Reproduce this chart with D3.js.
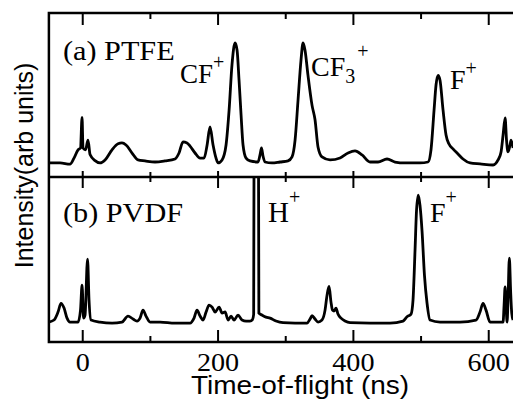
<!DOCTYPE html>
<html>
<head>
<meta charset="utf-8">
<script src="https://cdn.jsdelivr.net/npm/d3@7"></script>
<style>
  body { margin: 0; background: #fff; }
  svg { display: block; }
</style>
</head>
<body>
<div id="chart"></div>
<script>
// time-of-flight (ns) and intensity (arb units)
var ptfeTime = [-50, -33.5, -18.8, -12.9, -6.9, -3.3, -1.0, 0.4, 4.1, 7.8, 10.8, 18.2, 25.6, 33, 43.3, 52.2, 58, 64, 72.9, 81.7,
  92, 106.8, 121.6, 136.4, 142.3, 148.2, 154.1, 158.6, 166, 173.4, 179.3, 183.8, 188.1, 192.6, 197, 200, 205.9, 211.8, 216.3, 220.6,
  225.1, 228.1, 231, 234, 236.9, 241.4, 247.2, 259, 262, 264.2, 266.4, 269.4, 279.7, 291.6, 303.4, 309.3, 313.8, 318.2, 322.6, 325.6,
  328.5, 332.9, 338.9, 343.3, 347.7, 353.6, 365.5, 380.3, 392.1, 402.4, 412.8, 424.6, 436.4, 449.7, 461.5, 476.3, 498.5, 510.3, 514.7, 519.2,
  522.1, 525.1, 528, 532.5, 536.9, 541.3, 547.2, 554.6, 562, 572.4, 587.2, 606.4, 613.8, 618.2, 621.2, 624.2, 626.3, 628.5, 631.5, 633, 636]
var ptfeValue = [0, 0, -0.01, 0.04, 0.11, 0.125, 0.38, 0.125, 0.11, 0.19, 0.07, 0.02, 0, 0.025, 0.11, 0.16, 0.167, 0.15, 0.083, 0.025,
  0.017, 0.008, 0.017, 0.033, 0.083, 0.175, 0.167, 0.14, 0.083, 0.04, 0.04, 0.15, 0.30, 0.15, 0.04, 0, 0.025, 0.15, 0.44, 0.82,
  1.0, 0.94, 0.69, 0.40, 0.15, 0.04, 0.017, 0.008, 0.067, 0.125, 0.058, 0.008, 0, 0.008, 0.017, 0.05, 0.19, 0.525, 0.86, 1.0,
  0.94, 0.73, 0.48, 0.36, 0.133, 0.05, 0.025, 0.042, 0.083, 0.1, 0.067, 0.008, 0.008, 0.033, 0.008, 0, 0, 0.008, 0.11, 0.44,
  0.65, 0.73, 0.69, 0.44, 0.233, 0.158, 0.117, 0.075, 0.033, 0, -0.008, -0.017, 0.025, 0.092, 0.233, 0.375, 0.19, 0.092, 0.15, 0.19, 0.125]

var pvdfTime = [-50, -42.4, -36.5, -32.1, -27.6, -23.2, -18.8, -6.9, -3.3, -1.0, 1.2, 3.4, 7.1, 9.3, 12.3, 25.6, 43.3, 58, 66.9, 74.3,
  80.2, 84.7, 89.1, 93.5, 99.5, 114.3, 136.4, 158.6, 164.5, 168.9, 173.4, 177.8, 182.3, 186.7, 191.2, 195.6, 201.5, 205.9, 210.4, 214.8,
  219.2, 223.6, 229.5, 235.4, 241.4, 247.2, 250.9, 252.6, 253.4, 256.5, 259.5, 260.3, 264.9, 270.8, 276.8, 285.6, 296, 313.8, 331.5, 336,
  338.9, 343.3, 347.7, 353.6, 358.1, 361, 364, 366.9, 369.1, 371.4, 374.3, 377.2, 381.7, 387.6, 395, 424.6, 454.1, 473.4, 479.3, 485.2,
  488.1, 491.1, 493.3, 495.9, 498.4, 501.4, 505, 508.8, 513.2, 528, 557.6, 581.2, 587.1, 591.6, 596, 601.9, 621.2, 622.7, 624.2, 625.6,
  627.1, 628.5, 630.5, 632.3, 634, 636]
var pvdfValue = [0, 0.016, 0.079, 0.147, 0.11, 0.031, 0, 0, 0.094, 0.29, 0.031, 0.055, 0.496, 0.173, 0.016, 0, -0.008, 0, 0.047, 0.024,
  0.008, 0.031, 0.094, 0.047, 0, 0, -0.008, -0.008, 0.031, 0.094, 0.047, 0.016, 0.079, 0.134, 0.118, 0.079, 0.118, 0.071, 0.079, 0.016,
  0.047, 0.016, 0.055, 0.016, 0.008, 0.008, 0.02, 0.06, 1.9, 2.2, 1.9, 0.07, 0.055, 0.039, 0.031, 0.008, -0.005, -0.008, -0.008, 0.024,
  0.05, 0.024, 0, 0.016, 0.094, 0.21, 0.28, 0.157, 0.094, 0.087, 0.11, 0.063, 0.031, 0.008, -0.005, -0.008, -0.008, 0.008, 0.042, 0.063,
  0.173, 0.567, 0.88, 1.0, 0.92, 0.72, 0.37, 0.15, 0.016, 0, 0, 0.016, 0.079, 0.147, 0.094, 0, 0, 0.134, 0.276, 0.134,
  0, 0.173, 0.504, 0.25, 0.071, 0.016]

var majorTicks = [0, 200, 400, 600]
var minorTicks = [100, 300, 500]
var tickLabels = ["0", "200", "400", "600"]

var width = 513, height = 400
var left = 48.9, right = 515.8
var top1 = 13, mid = 177, bottom2 = 342

var svg = d3.select("#chart").append("svg")
            .attr("width", width)
            .attr("height", height)

svg.append("rect").attr("width", width).attr("height", height).attr("fill", "#fff")

var x = d3.scaleLinear().domain([-50, 640]).range([left, right])
var yTop = d3.scaleLinear().domain([-0.117, 1.25]).range([mid, top1])
var yBot = d3.scaleLinear().domain([-0.157, 1.142]).range([bottom2, mid])

var defs = svg.append("defs")
defs.append("clipPath").attr("id", "clipTop")
    .append("rect").attr("x", left).attr("y", top1).attr("width", right - left).attr("height", mid - top1)
defs.append("clipPath").attr("id", "clipBot")
    .append("rect").attr("x", left).attr("y", mid).attr("width", right - left).attr("height", bottom2 - mid)

function drawTrace(times, values, yScale, clip) {
    var pts = times.map(function (t, i) { return [t, values[i]] })
    var line = d3.line()
                 .x(function (d) { return x(d[0]) })
                 .y(function (d) { return yScale(d[1]) })
                 .curve(d3.curveMonotoneX)
    svg.append("path")
       .datum(pts)
       .attr("clip-path", "url(#" + clip + ")")
       .attr("fill", "none")
       .attr("stroke", "#000")
       .attr("stroke-width", 2.8)
       .attr("stroke-linejoin", "round")
       .attr("d", line)
}

drawTrace(ptfeTime, ptfeValue, yTop, "clipTop")
drawTrace(pvdfTime, pvdfValue, yBot, "clipBot")

// ticks on each horizontal border, pointing into the panel
function ticks(yPos, dir, majorLen, minorLen) {
    var g = svg.append("g").attr("stroke", "#000").attr("stroke-width", 2)
    g.selectAll(".maj").data(majorTicks).enter().append("line")
     .attr("x1", function (d) { return x(d) }).attr("x2", function (d) { return x(d) })
     .attr("y1", yPos).attr("y2", yPos + dir * majorLen)
    g.selectAll(".min").data(minorTicks).enter().append("line")
     .attr("x1", function (d) { return x(d) }).attr("x2", function (d) { return x(d) })
     .attr("y1", yPos).attr("y2", yPos + dir * minorLen)
}
ticks(top1, 1, 12, 6)
ticks(mid, -1, 6, 5)
ticks(mid, 1, 11, 5)
ticks(bottom2, -1, 12, 6)

// frame
var frame = svg.append("g").attr("stroke", "#000").attr("stroke-width", 2.5).attr("fill", "none")
frame.append("rect").attr("x", left).attr("y", top1).attr("width", right + 10 - left).attr("height", bottom2 - top1)
frame.append("line").attr("x1", left).attr("x2", right + 10).attr("y1", mid).attr("y2", mid)

// tick labels
svg.selectAll(".tl").data(majorTicks).enter().append("text")
   .attr("transform", function (d) {
       var shift = x(d) + 24 > width ? -8 : 0
       return "translate(" + (x(d) + shift) + ",371) scale(1.15,1)"
   })
   .attr("text-anchor", "middle")
   .attr("font-family", "Liberation Serif, Times New Roman, serif")
   .attr("font-size", 24.5)
   .text(function (d, i) { return tickLabels[i] })

svg.append("text")
   .attr("transform", "translate(300,394) scale(1.12,1)")
   .attr("text-anchor", "middle")
   .attr("font-family", "Liberation Sans, Arial, sans-serif")
   .attr("font-size", 25)
   .text("Time-of-flight (ns)")

svg.append("text")
   .attr("transform", "translate(33,165.5) rotate(-90)")
   .attr("text-anchor", "middle")
   .attr("font-family", "Liberation Sans, Arial, sans-serif")
   .attr("font-size", 25)
   .text("Intensity(arb units)")

// annotations
function label(px, py, size, sx, parts) {
    var t = svg.append("text")
               .attr("transform", "translate(" + px + "," + py + ") scale(" + sx + ",1)")
               .attr("font-family", "Liberation Serif, Times New Roman, serif")
               .attr("font-size", size)
    parts.forEach(function (p) {
        var s = t.append("tspan").text(p.t)
        if (p.size) s.attr("font-size", p.size)
        if (p.dy) s.attr("dy", p.dy)
        if (p.dx) s.attr("dx", p.dx)
    })
}
label(63, 60, 28, 1.08, [{t: "(a) PTFE"}])
label(63, 221.7, 28, 1.08, [{t: "(b) PVDF"}])
label(180, 83, 27, 1, [{t: "CF"}, {t: "+", size: 20, dy: -14}])
label(311, 76, 28, 1, [{t: "CF"}, {t: "3", size: 20, dy: 7}, {t: "+", size: 20, dy: -25, dx: 2}])
label(450, 89, 28, 1, [{t: "F"}, {t: "+", size: 20, dy: -14}])
label(268, 221.7, 29, 1, [{t: "H"}, {t: "+", size: 20, dy: -18}])
label(430, 221.7, 28, 1, [{t: "F"}, {t: "+", size: 20, dy: -18}])
</script>
</body>
</html>
